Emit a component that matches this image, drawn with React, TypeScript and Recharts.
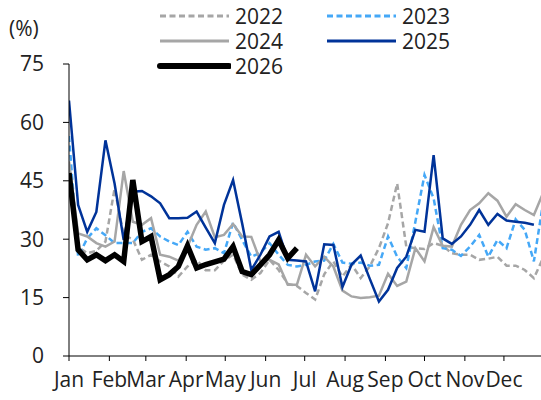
import React from 'react';
import { LineChart, Line, XAxis, YAxis } from 'recharts';

const months = ['Jan', 'Feb', 'Mar', 'Apr', 'May', 'Jun', 'Jul', 'Aug', 'Sep', 'Oct', 'Nov', 'Dec'];
// first day of each month (day of year), ticks sit on weekly scale
const monthStartDays = [0, 31, 59, 90, 120, 151, 181, 212, 243, 273, 304, 334];
const yTicks = [0, 15, 30, 45, 60, 75];

// weekly values (%), week 0 = first week of Jan
const v2022 = [44, 28, 26.4, 27, 29.4, 43, 31, 30, 24.7, 26, 24.3, 23, 20.4, 23, 24.7, 22, 22, 24.5, 26, 20.9,
  19.6, 21.3, 24.7, 22.1, 18.5, 18, 16.2, 14.5, 21, 24.3, 20.4, 23.5, 20, 23, 27.7, 34.1, 44.3, 28.1, 27.7, 27.5,
  29, 28.3, 26.4, 26, 26, 24.7, 25, 25.5, 23.2, 23.2, 22.1, 20, 25.1];
const v2023 = [56.5, 25.5, 30.2, 32.8, 31, 29, 29, 29, 31.9, 32.8, 30.7, 29.4, 28.5, 31.9, 28.1, 27.3, 27.7, 26.4, 34.3, 29.8,
  25.5, 26.5, 29, 26, 23.4, 23, 23.4, 24.3, 24.5, 28.8, 24, 23.7, 24, 23.2, 23.4, 30.7, 25.5, 22.6, 34.5, 46.5,
  40.5, 27.7, 27.3, 25.7, 28.1, 31.1, 25.5, 29.8, 27.7, 35.1, 32.4, 24.3, 39.2];
const v2024 = [50, 31.5, 30.7, 29, 28.1, 29.4, 47.5, 34.5, 33.7, 35.4, 26, 25.5, 24.5, 28.1, 33.7, 37.1, 30.5, 31.1, 33.9, 30.7,
  30.6, 24.3, 24.7, 23.5, 18.3, 18.3, 26, 23, 25.5, 23, 16.8, 15.3, 14.9, 15.1, 15.5, 21.1, 18, 19.1, 27.7, 24.3,
  33.1, 28.3, 28.1, 33.7, 37.5, 39.2, 41.8, 39.9, 35.8, 39, 37.5, 36.2, 41.8];
const v2025 = [65.6, 38.8, 31.9, 37, 55.4, 44.3, 29.8, 42.2, 42.4, 41, 39.2, 35.4, 35.4, 35.5, 37.1, 33, 29, 38.8, 45.2, 34,
  22.1, 26, 30.7, 31.9, 24.7, 24.5, 24.3, 16.6, 28.7, 28.5, 17.7, 23.5, 25.8, 19.8, 14, 17, 22.6, 25.5, 32.4, 31.9,
  51.6, 30.2, 28.8, 30.7, 33.7, 37.5, 33.7, 36.5, 34.8, 34.5, 34.2, 33.7];
const v2026 = [47, 27.3, 24.7, 26, 24.5, 26, 24.3, 45.2, 29.4, 30.7, 19.6, 20.9, 23, 28.3, 22.6, 23.5, 24.2, 24.9, 28.1, 21.7,
  20.9, 23.4, 26, 29.8, 25.1, 27.7];

const FONT = '"Open Sans", "Noto Sans", sans-serif';

const series = [
  { key: 'y2022', name: '2022', values: v2022, color: '#A6A6A6', width: 2.5, dash: '6 3.5' },
  { key: 'y2023', name: '2023', values: v2023, color: '#45A8F7', width: 2.5, dash: '6 3.5' },
  { key: 'y2024', name: '2024', values: v2024, color: '#A6A6A6', width: 2.5, dash: undefined },
  { key: 'y2025', name: '2025', values: v2025, color: '#003399', width: 2.5, dash: undefined },
  { key: 'y2026', name: '2026', values: v2026, color: '#000000', width: 5.5, dash: undefined },
];

const data = v2022.map((_, i) => {
  const row: any = { w: i };
  series.forEach(s => { row[s.key] = s.values[i]; });
  return row;
});

const monthTicks = monthStartDays.map(d => d / 7);

// legend placement: two columns, three rows
const legendPos = [
  { left: 157, top: 16 }, { left: 324, top: 16 },
  { left: 157, top: 41 }, { left: 324, top: 41 },
  { left: 157, top: 66 },
];

const LegendItem = ({ s, pos }: any) => (
  <div style={{ position: 'absolute', left: pos.left, top: pos.top - 11, height: 22, display: 'flex', alignItems: 'center' }}>
    <svg width={74} height={12}>
      <line x1={3} y1={6} x2={72} y2={6} stroke={s.color} strokeWidth={s.key === 'y2026' ? 6 : 3}
        strokeDasharray={s.dash} strokeLinecap={s.key === 'y2026' ? 'round' : 'butt'} />
    </svg>
    <span style={{ display: 'inline-block', height: 22, marginLeft: 4, fontSize: 21, color: '#222', fontFamily: FONT, lineHeight: '22px' }}>{s.name}</span>
  </div>
);

export default function App() {
  return (
    <div style={{ position: 'absolute', left: 0, top: 0, width: 541, height: 400, background: '#fff', overflow: 'hidden' }}>
      <LineChart width={541} height={400} data={data} margin={{ top: 64, right: -2, bottom: 0, left: 0 }}>
        <XAxis dataKey="w" type="number" domain={[0, 52]} ticks={monthTicks} interval={0}
          tickFormatter={(_v: number, i: number) => months[i]} allowDataOverflow
          height={44} tickSize={5} tickMargin={11}
          axisLine={{ stroke: '#000' }} tickLine={{ stroke: '#000' }}
          tick={{ fontSize: 21, fill: '#222', fontFamily: FONT }} />
        <YAxis type="number" domain={[0, 75]} ticks={yTicks} interval={0} width={69}
          tickSize={6} tickMargin={19} axisLine={{ stroke: '#000' }} tickLine={{ stroke: '#000' }}
          tick={{ fontSize: 21, fill: '#222', fontFamily: FONT }} />
        {series.map(s => (
          <Line key={s.key} dataKey={s.key} name={s.name} stroke={s.color} strokeWidth={s.width}
            strokeDasharray={s.dash} dot={false} isAnimationActive={false} strokeLinejoin="miter" />
        ))}
      </LineChart>
      <div style={{ position: 'absolute', left: 9, top: 16, fontSize: 21, color: '#222', fontFamily: FONT, lineHeight: '24px' }}>(%)</div>
      {series.map((s, i) => <LegendItem key={s.key} s={s} pos={legendPos[i]} />)}
    </div>
  );
}
